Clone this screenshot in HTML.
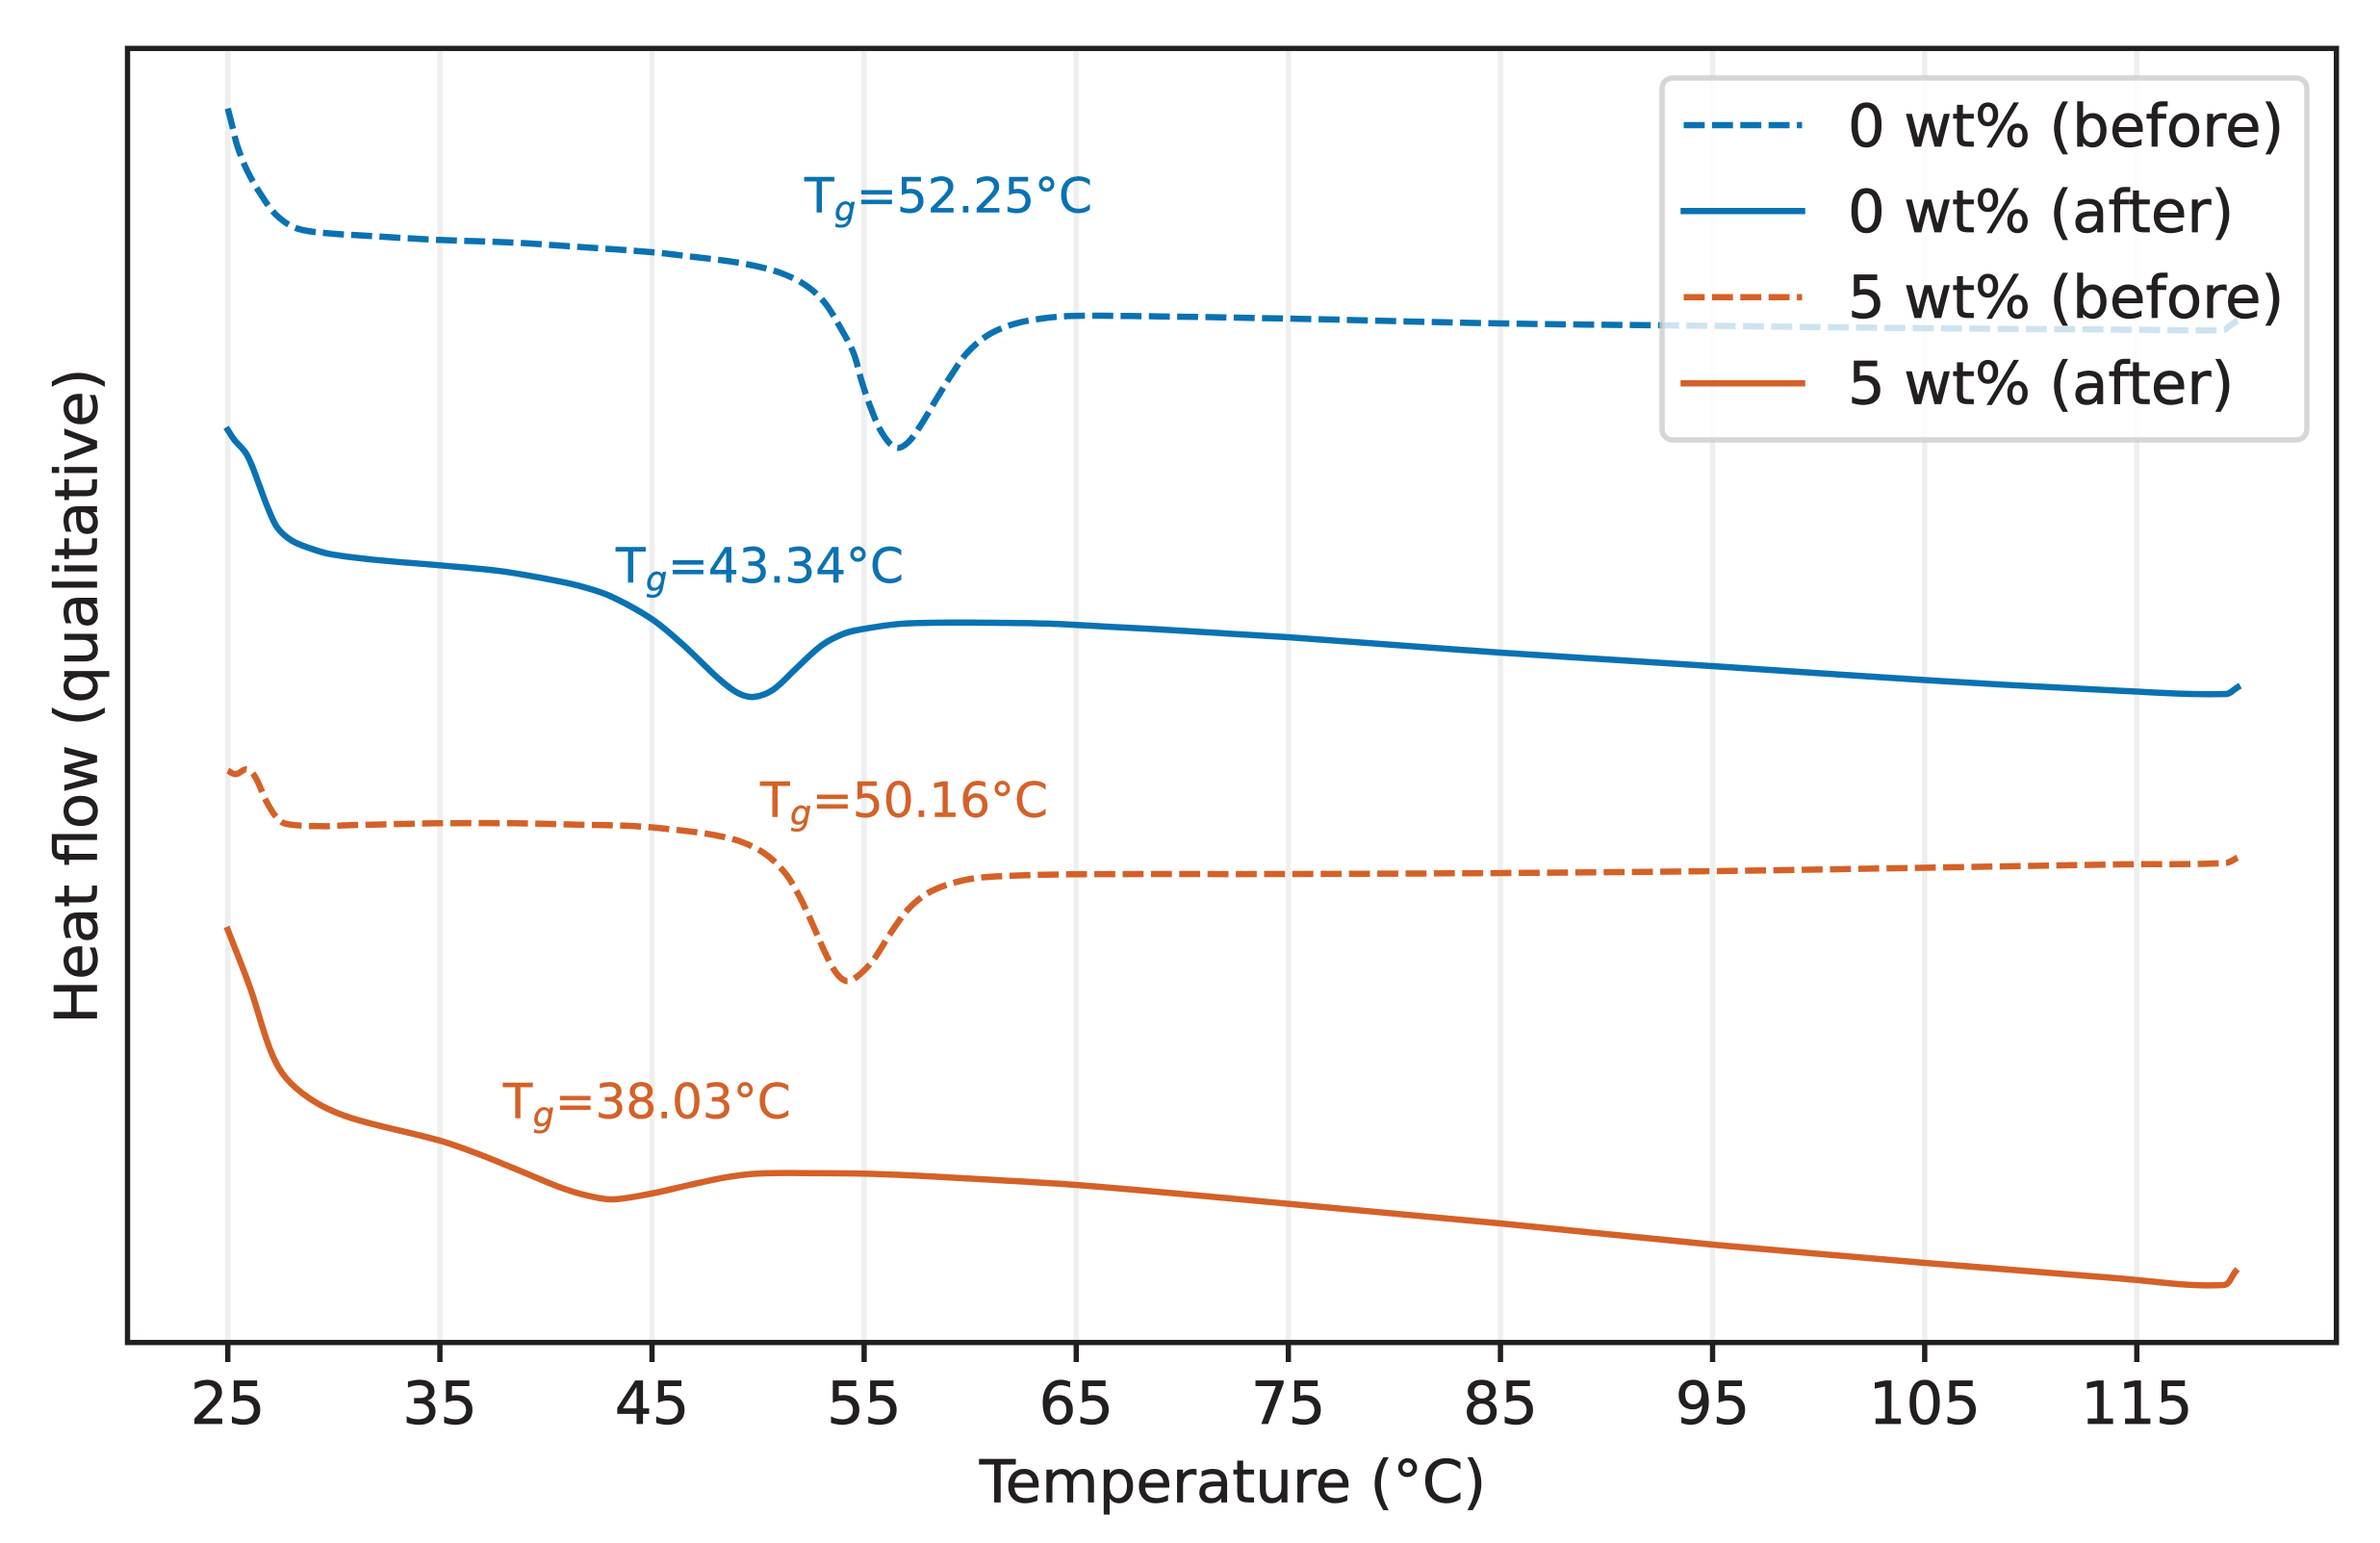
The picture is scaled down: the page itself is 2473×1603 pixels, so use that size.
<!DOCTYPE html>
<html lang="en">
<head>
<meta charset="utf-8">
<title>Heat flow vs temperature</title>
<style>
html,body{margin:0;padding:0;background:#fff;}
svg{display:block;}
text{font-family:"DejaVu Sans","Liberation Sans",sans-serif;fill:#231f20;text-rendering:geometricPrecision;}
.tg-blue,.tg-blue tspan{fill:#0a72b2;stroke:#0a72b2;stroke-width:0.5px;font-size:50px;}
.tg-orange,.tg-orange tspan{fill:#d46128;stroke:#d46128;stroke-width:0.5px;font-size:50px;}
.tg-sub{font-style:italic;font-size:35px !important;}
.big{font-size:61px;stroke:#231f20;stroke-width:0.7px;}
</style>
</head>
<body>
<svg id="chart" xmlns="http://www.w3.org/2000/svg" width="2473" height="1603" viewBox="0 0 2473 1603">
  <rect x="0" y="0" width="2473" height="1603" fill="#ffffff"/>
  <g id="grid"></g>
  <g id="series"></g>

  <text class="tg-blue" y="220.7"><tspan x="836">T</tspan><tspan class="tg-sub" x="867" y="229">g</tspan><tspan x="890" y="220.7">=52.25°C</tspan></text>
  <text class="tg-blue" y="605"><tspan x="640">T</tspan><tspan class="tg-sub" x="671" y="613.3">g</tspan><tspan x="694" y="605">=43.34°C</tspan></text>
  <text class="tg-orange" y="848.3"><tspan x="790">T</tspan><tspan class="tg-sub" x="821" y="856.6">g</tspan><tspan x="844" y="848.3">=50.16°C</tspan></text>
  <text class="tg-orange" y="1161.7"><tspan x="522.7">T</tspan><tspan class="tg-sub" x="553.7" y="1170">g</tspan><tspan x="576.7" y="1161.7">=38.03°C</tspan></text>

  <g>
    <rect x="1727" y="81" width="670" height="376" rx="11" ry="11" fill="#ffffff" fill-opacity="0.8" stroke="#cccccc" stroke-opacity="0.8" stroke-width="5.5"/>
    <g>
      <line x1="1749.5" y1="130" x2="1872.5" y2="130" stroke="#0a72b2" stroke-width="6.5" stroke-dasharray="21.8 7.6"/>
      <text class="big" x="1920" y="152">0 wt% (before)</text>
    </g>
    <g>
      <line x1="1749.5" y1="219.3" x2="1872.5" y2="219.3" stroke="#0a72b2" stroke-width="6.5" stroke-linecap="square"/>
      <text class="big" x="1920" y="241">0 wt% (after)</text>
    </g>
    <g>
      <line x1="1749.5" y1="308.7" x2="1872.5" y2="308.7" stroke="#d46128" stroke-width="6.5" stroke-dasharray="21.8 7.6"/>
      <text class="big" x="1920" y="330">5 wt% (before)</text>
    </g>
    <g>
      <line x1="1749.5" y1="398.3" x2="1872.5" y2="398.3" stroke="#d46128" stroke-width="6.5" stroke-linecap="square"/>
      <text class="big" x="1920" y="419.5">5 wt% (after)</text>
    </g>
  </g>

  <rect x="132.5" y="50.3" width="2295.2" height="1344.4" fill="none" stroke="#231f20" stroke-width="5.5"/>
  <g id="ticks"></g>

  <text class="big" x="1281" y="1560.7" text-anchor="middle">Temperature (°C)</text>
  <text class="big" transform="translate(100.7 723) rotate(-90)" text-anchor="middle">Heat flow (qualitative)</text>
</svg>
<script>
const tickValues = [25, 35, 45, 55, 65, 75, 85, 95, 105, 115];
const tickLabels = ["25", "35", "45", "55", "65", "75", "85", "95", "105", "115"];

const temps0Before = [25, 25.2, 25.45, 25.9, 26.5, 27.27, 28.18, 29.4, 31.6, 35, 38.45, 41.2, 45, 47, 48.5, 49.65, 51, 52.2, 53.1, 53.87, 54.5, 54.87, 55.3, 55.85, 56.5, 57.05, 57.67, 58.35, 59.1, 59.85, 60.85, 62.05, 63.35, 64.77, 67.5, 75, 85, 95, 105, 115, 119.1, 119.4, 119.75];
const values0Before = [128.2, 126.47, 124.3, 121.8, 119.47, 117.17, 115.8, 115.3, 114.97, 114.54, 114.27, 113.87, 113.27, 112.77, 112.37, 111.94, 111.17, 109.9, 108.14, 105.47, 102.8, 99.97, 97.17, 94.47, 92.97, 93.47, 95.3, 97.8, 100.47, 102.8, 104.67, 105.8, 106.37, 106.64, 106.64, 106.37, 105.87, 105.62, 105.37, 105.22, 105.2, 105.67, 106.17];

const temps0After = [25, 25.3, 25.83, 26.13, 26.5, 26.9, 27.34, 28.02, 28.93, 29.84, 31.8, 35, 37.85, 40.1, 41.5, 43, 45, 46.47, 48.14, 49.05, 49.8, 50.7, 51.77, 52.98, 54.04, 55, 56.6, 58.12, 61.15, 64.17, 75, 85, 95, 105, 114.1, 119.2, 119.75];
const values0After = [94.8, 93.8, 92.47, 91.14, 88.97, 86.64, 84.64, 83.3, 82.47, 81.9, 81.34, 80.74, 80.14, 79.3, 78.64, 77.57, 75.14, 72.47, 68.97, 67.47, 67.07, 67.8, 69.97, 72.4, 73.64, 74.14, 74.64, 74.77, 74.77, 74.64, 73.27, 71.67, 70.27, 68.82, 67.72, 67.37, 68.07];

const temps5Before = [25, 25.38, 25.88, 26.28, 26.8, 27.27, 27.72, 29.38, 30.74, 33.17, 35, 38.46, 41.48, 44.2, 46.62, 47.98, 49.27, 50.41, 51.32, 52, 52.6, 53.13, 53.66, 54.14, 54.64, 55.4, 56.23, 57.06, 57.97, 59.03, 60.24, 61.75, 64.77, 75, 85, 95, 105, 114.1, 119.2, 119.75];
const values5Before = [59.4, 59.04, 59.54, 58.8, 56.3, 54.64, 53.9, 53.64, 53.74, 53.87, 53.94, 53.94, 53.8, 53.64, 53.14, 52.7, 51.97, 50.64, 48.64, 46.14, 43.3, 40.64, 38.47, 37.57, 37.97, 39.64, 42.47, 44.97, 46.64, 47.64, 48.24, 48.47, 48.64, 48.67, 48.77, 48.97, 49.32, 49.67, 49.82, 50.37];

const temps5After = [25, 26.06, 26.96, 27.57, 28.47, 29.69, 31.2, 35, 36.95, 38.9, 40.73, 41.94, 43.15, 44.96, 46.78, 48.44, 49.95, 52.07, 54.95, 57.36, 59.63, 65, 75, 85, 95, 105, 114.1, 119.1, 119.65];
const values5After = [42.87, 36.8, 30.64, 27.97, 25.97, 24.3, 23.07, 20.97, 19.47, 17.72, 16.07, 15.27, 14.87, 15.47, 16.37, 17.14, 17.54, 17.6, 17.54, 17.34, 17.07, 16.37, 14.41, 12.37, 10.17, 8.27, 6.67, 5.97, 7.37];

const SVG_NS = "http://www.w3.org/2000/svg";
const plotTop = 50.3;
const plotBottom = 1394.7;
const valueMax = 134.44;
const blue = "#0a72b2";
const orange = "#d46128";

function xScale(t) {
  return 236.7 + (t - 25) * 22.04;
}
function yScale(v) {
  return plotBottom - (v / valueMax) * (plotBottom - plotTop);
}
function curvePath(ts, vs) {
  const p = ts.map(function (t, i) { return [xScale(t), yScale(vs[i])]; });
  function dist(a, b) { return Math.hypot(a[0] - b[0], a[1] - b[1]); }
  function tangent(i) {
    const a = p[Math.max(i - 1, 0)];
    const b = p[Math.min(i + 1, p.length - 1)];
    const d = dist(a, b) || 1;
    return [(b[0] - a[0]) / d, (b[1] - a[1]) / d];
  }
  let d = "M" + p[0][0].toFixed(2) + " " + p[0][1].toFixed(2);
  for (let i = 0; i < p.length - 1; i++) {
    const len = dist(p[i], p[i + 1]) / 3;
    const t0 = tangent(i);
    const t1 = tangent(i + 1);
    d += "C" + (p[i][0] + t0[0] * len).toFixed(2) + " " + (p[i][1] + t0[1] * len).toFixed(2) +
         " " + (p[i + 1][0] - t1[0] * len).toFixed(2) + " " + (p[i + 1][1] - t1[1] * len).toFixed(2) +
         " " + p[i + 1][0].toFixed(2) + " " + p[i + 1][1].toFixed(2);
  }
  return d;
}

const gridGroup = document.getElementById("grid");
const tickGroup = document.getElementById("ticks");
tickValues.forEach(function (tv, i) {
  const x = xScale(tv);

  const gridLine = document.createElementNS(SVG_NS, "line");
  gridLine.setAttribute("x1", x);
  gridLine.setAttribute("x2", x);
  gridLine.setAttribute("y1", plotTop);
  gridLine.setAttribute("y2", plotBottom);
  gridLine.setAttribute("stroke", "#efefef");
  gridLine.setAttribute("stroke-width", "5.55");
  
  
  gridGroup.appendChild(gridLine);

  const tickMark = document.createElementNS(SVG_NS, "line");
  tickMark.setAttribute("x1", x);
  tickMark.setAttribute("x2", x);
  tickMark.setAttribute("y1", plotBottom);
  tickMark.setAttribute("y2", plotBottom + 20.3);
  tickMark.setAttribute("stroke", "#231f20");
  tickMark.setAttribute("stroke-width", "5.5");
  
  
  tickGroup.appendChild(tickMark);

  const tickText = document.createElementNS(SVG_NS, "text");
  tickText.setAttribute("x", x);
  tickText.setAttribute("y", 1479);
  tickText.setAttribute("text-anchor", "middle");
  tickText.setAttribute("class", "big");
  
  
  tickText.textContent = tickLabels[i];
  tickGroup.appendChild(tickText);
});

const seriesGroup = document.getElementById("series");

const line0Before = document.createElementNS(SVG_NS, "path");
line0Before.setAttribute("d", curvePath(temps0Before, values0Before));
line0Before.setAttribute("fill", "none");
line0Before.setAttribute("stroke", blue);
line0Before.setAttribute("stroke-width", "6.5");
line0Before.setAttribute("stroke-dasharray", "21.8 7.6");


seriesGroup.appendChild(line0Before);

const line0After = document.createElementNS(SVG_NS, "path");
line0After.setAttribute("d", curvePath(temps0After, values0After));
line0After.setAttribute("fill", "none");
line0After.setAttribute("stroke", blue);
line0After.setAttribute("stroke-width", "6.5");
line0After.setAttribute("stroke-linecap", "square");


seriesGroup.appendChild(line0After);

const line5Before = document.createElementNS(SVG_NS, "path");
line5Before.setAttribute("d", curvePath(temps5Before, values5Before));
line5Before.setAttribute("fill", "none");
line5Before.setAttribute("stroke", orange);
line5Before.setAttribute("stroke-width", "6.5");
line5Before.setAttribute("stroke-dasharray", "21.8 7.6");


seriesGroup.appendChild(line5Before);

const line5After = document.createElementNS(SVG_NS, "path");
line5After.setAttribute("d", curvePath(temps5After, values5After));
line5After.setAttribute("fill", "none");
line5After.setAttribute("stroke", orange);
line5After.setAttribute("stroke-width", "6.5");
line5After.setAttribute("stroke-linecap", "square");


seriesGroup.appendChild(line5After);
</script>
</body>
</html>
